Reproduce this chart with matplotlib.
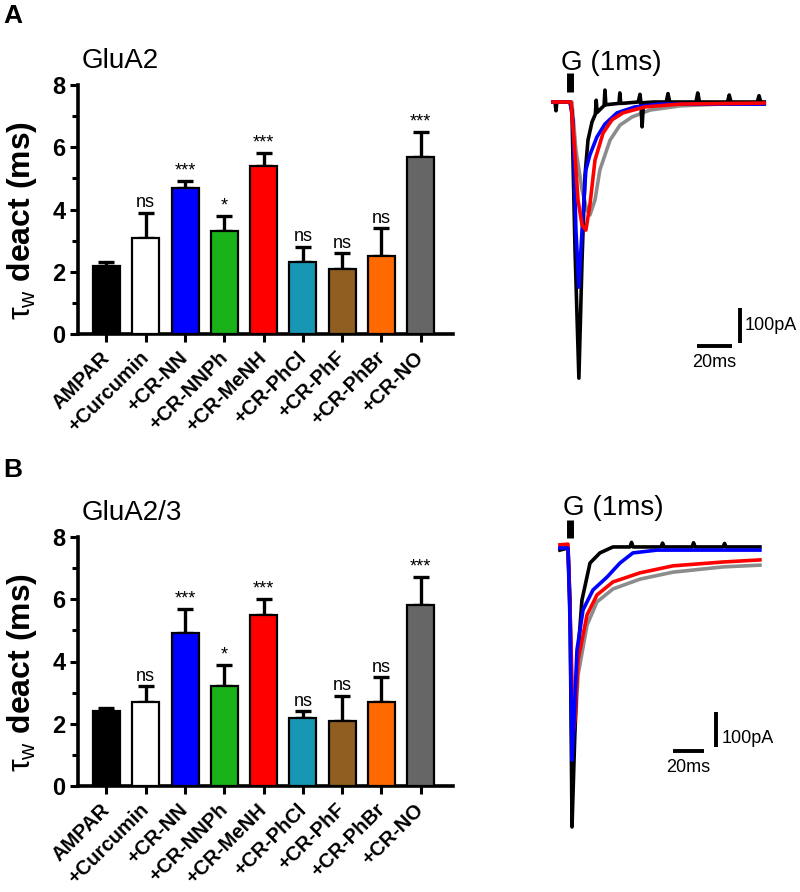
import numpy as np
import matplotlib
matplotlib.use('Agg')
import matplotlib.pyplot as plt

plt.rcParams['font.family'] = ['Liberation Sans', 'DejaVu Sans']
plt.rcParams['mathtext.fontset'] = 'custom'
plt.rcParams['mathtext.rm'] = 'Liberation Sans'
plt.rcParams['mathtext.it'] = 'Liberation Sans'
plt.rcParams['mathtext.bf'] = 'Liberation Sans:bold'

# ---- bar data ----
groups = ['AMPAR', '+Curcumin', '+CR-NN', '+CR-NNPh', '+CR-MeNH',
          '+CR-PhCl', '+CR-PhF', '+CR-PhBr', '+CR-NO']
bar_colors = ['#000000', '#ffffff', '#0000ff', '#19b219', '#ff0000',
              '#1797b3', '#8f5e20', '#ff6a00', '#666666']

glua2_mean = [2.2, 3.1, 4.7, 3.3, 5.4, 2.3, 2.1, 2.5, 5.7]
glua2_sem = [0.1, 0.8, 0.2, 0.5, 0.4, 0.5, 0.5, 0.9, 0.8]
glua2_sig = ['', 'ns', '***', '*', '***', 'ns', 'ns', 'ns', '***']

glua23_mean = [2.4, 2.7, 4.9, 3.2, 5.5, 2.2, 2.1, 2.7, 5.8]
glua23_sem = [0.1, 0.5, 0.8, 0.7, 0.5, 0.2, 0.8, 0.8, 0.9]
glua23_sig = ['', 'ns', '***', '*', '***', 'ns', 'ns', 'ns', '***']

# ---- current traces (ms, pA) ----
a_black_t = [-9.7, -8.5, -8, -7.5, 0, 1.1, 2.9, 5.1, 6.9, 8.6, 10.3, 12.6, 14.5, 15, 15.5,
             17.1, 19.5, 20, 20.5, 24, 28, 28.5, 29, 32, 39, 40, 40.5, 41.2, 42, 48,
             55, 56, 57, 65, 72, 73, 74, 82, 90, 91, 92, 100, 107, 108, 109, 111]
a_black_i = [0, 0, -25, 0, 0, -23, -423, -789, -451, -209, -109, -57, -35, 5, -30,
             -22, -10, 34, -8, -6, -4, 26, -4, -3, 0, 22, 0, -71, -2, 0,
             0, 24, 0, 0, 0, 26, 0, 0, 0, 20, 0, 0, 0, 18, 0, 0]
a_blue_t = [-9.7, 0, 1.7, 3.4, 5.1, 6.9, 9.1, 11.4, 15.4, 20, 26.9, 37.1, 51.4, 111]
a_blue_i = [0, 0, -51, -366, -529, -366, -194, -151, -100, -63, -31, -14, -6, -6]
a_red_t = [-9.7, 0.6, 2.3, 4.6, 6.9, 9.1, 11.4, 14.3, 18.9, 24, 30.3, 42.9, 62.9, 111]
a_red_i = [0, 0, -109, -280, -351, -366, -294, -166, -89, -51, -31, -14, -6, -3]
a_gray_t = [-9.7, 1.1, 3.4, 6.9, 9.7, 11.4, 14.3, 17.1, 22.9, 28.6, 35.4, 45.7, 62.9, 85.7, 111]
a_gray_i = [0, 0, -137, -251, -309, -323, -280, -194, -109, -66, -43, -23, -11, -6, -6]

b_black_t = [-5.2, 0, 1.3, 2.6, 3.9, 5.8, 9.0, 14.2, 20.6, 29, 40, 41, 42, 60, 61, 62,
             80, 81, 82, 100, 101, 102, 123.8]
b_black_i = [-6, 0, -149, -797, -606, -340, -149, -43, -14, 3, 3, 16, 3, 3, 14, 3,
             3, 15, 3, 3, 13, 3, 3]
b_blue_t = [-5.2, 0, 1.3, 2.6, 3.9, 5.8, 9.7, 16.1, 25.2, 33.5, 41.9, 57.4, 123.8]
b_blue_i = [0, 0, -206, -606, -491, -291, -177, -120, -83, -43, -14, -6, -6]
b_red_t = [-5.2, 0, 1.9, 3.2, 4.5, 6.5, 12.3, 18.7, 29, 46.4, 67.7, 100, 123.8]
b_red_i = [9, 11, -263, -534, -491, -320, -191, -134, -97, -71, -51, -40, -34]
b_gray_t = [-5.2, 0, 1.9, 3.2, 4.5, 6.5, 12.3, 18.7, 29, 46.4, 67.7, 100, 123.8]
b_gray_i = [0, 0, -263, -549, -520, -363, -220, -154, -117, -89, -69, -54, -49]

fig = plt.figure(figsize=(8, 8.92), dpi=100)


def bar_panel(rect, means, sems, sigs):
    ax = fig.add_axes(rect)
    x = np.arange(len(groups))
    ax.bar(x, means, width=0.69, color=bar_colors, edgecolor='black',
           linewidth=1.6, zorder=3,
           yerr=[np.zeros(len(sems)), sems], capsize=6,
           error_kw=dict(elinewidth=2.4, capthick=2.4, ecolor='black', zorder=2))
    for xi, m, s, lab in zip(x, means, sems, sigs):
        if lab:
            ax.text(xi, m + s + 0.05, lab, ha='center', va='bottom', fontsize=13)
    ax.set_ylim(0, 8)
    ax.set_xlim(-0.725, 8.82)
    ax.set_yticks([0, 2, 4, 6, 8])
    ax.set_yticks([1, 3, 5, 7], minor=True)
    ax.set_xticks(x)
    ax.set_xticklabels(groups, rotation=45, ha='right', va='center',
                       rotation_mode='anchor', fontsize=14.5, fontweight='bold')
    for t in ax.get_yticklabels():
        t.set_fontweight('bold')
        t.set_fontsize(17)
    ax.tick_params(axis='both', which='major', width=2.2, length=6, pad=3)
    ax.tick_params(axis='x', pad=9)
    ax.tick_params(axis='y', which='minor', width=2.2, length=4)
    for sp in ['top', 'right']:
        ax.spines[sp].set_visible(False)
    for sp in ['left', 'bottom']:
        ax.spines[sp].set_linewidth(2.6)
    ax.set_ylabel(r'$\tau_{\mathrm{w}}$ deact (ms)', fontsize=23, fontweight='bold')
    ax.yaxis.set_label_coords(-0.105, 0.455)
    return ax


def trace_panel(rect, xlim, ylim, traces, stim, scale_v, scale_h, lab_v, lab_h):
    ax = fig.add_axes(rect)
    for tt, ii, c in traces:
        ax.plot(tt, ii, color=c, linewidth=2.6, solid_joinstyle='round')
    ax.plot(stim[0], stim[1], color='black', linewidth=5, solid_capstyle='butt')
    ax.plot(scale_v[0], scale_v[1], color='black', linewidth=2.8, solid_capstyle='butt')
    ax.plot(scale_h[0], scale_h[1], color='black', linewidth=2.8, solid_capstyle='butt')
    ax.text(lab_v[0], lab_v[1], '100pA', ha='left', va='center', fontsize=13)
    ax.text(lab_h[0], lab_h[1], '20ms', ha='center', va='center', fontsize=13)
    ax.set_xlim(*xlim)
    ax.set_ylim(*ylim)
    ax.axis('off')
    return ax


# panel A
bar_panel([78 / 800, 1 - 334 / 892, 375 / 800, 249 / 892], glua2_mean, glua2_sem, glua2_sig)
trace_panel([550 / 800, 1 - 390 / 892, 240 / 800, 330 / 892],
            (-11.4, 125.7), (-822.9, 120),
            [(a_gray_t, a_gray_i, '#8c8c8c'), (a_black_t, a_black_i, 'black'),
             (a_blue_t, a_blue_i, '#0000ff'), (a_red_t, a_red_i, '#ff0000')],
            ([0, 0], [83, 29]),
            ([97.1, 97.1], [-588.6, -688.6]), ([72.6, 92.6], [-697, -697]),
            (100, -640), (82.3, -743))

# panel B
bar_panel([78 / 800, 1 - 786 / 892, 375 / 800, 249 / 892], glua23_mean, glua23_sem, glua23_sig)
trace_panel([550 / 800, 1 - 890 / 892, 240 / 800, 395 / 892],
            (-11.6, 143.2), (-977, 151.4),
            [(b_gray_t, b_gray_i, '#8c8c8c'), (b_black_t, b_black_i, 'black'),
             (b_red_t, b_red_i, '#ff0000'), (b_blue_t, b_blue_i, '#0000ff')],
            ([1.3, 1.3], [80, 29]),
            ([95.5, 95.5], [-469, -569]), ([67.7, 87.7], [-580, -580]),
            (99.3, -543), (77.4, -626))

fig.text(82 / 800, 1 - 68 / 892, 'GluA2', fontsize=20, ha='left', va='baseline')
fig.text(82 / 800, 1 - 520 / 892, 'GluA2/3', fontsize=20, ha='left', va='baseline')
fig.text(561 / 800, 1 - 70 / 892, 'G (1ms)', fontsize=20, ha='left', va='baseline')
fig.text(563 / 800, 1 - 515 / 892, 'G (1ms)', fontsize=20, ha='left', va='baseline')
fig.text(3 / 800, 1 - 23 / 892, 'A', fontsize=19, fontweight='bold', ha='left', va='baseline')
fig.text(3 / 800, 1 - 477 / 892, 'B', fontsize=19, fontweight='bold', ha='left', va='baseline')

fig.savefig('out.png', dpi=100, facecolor='white')
